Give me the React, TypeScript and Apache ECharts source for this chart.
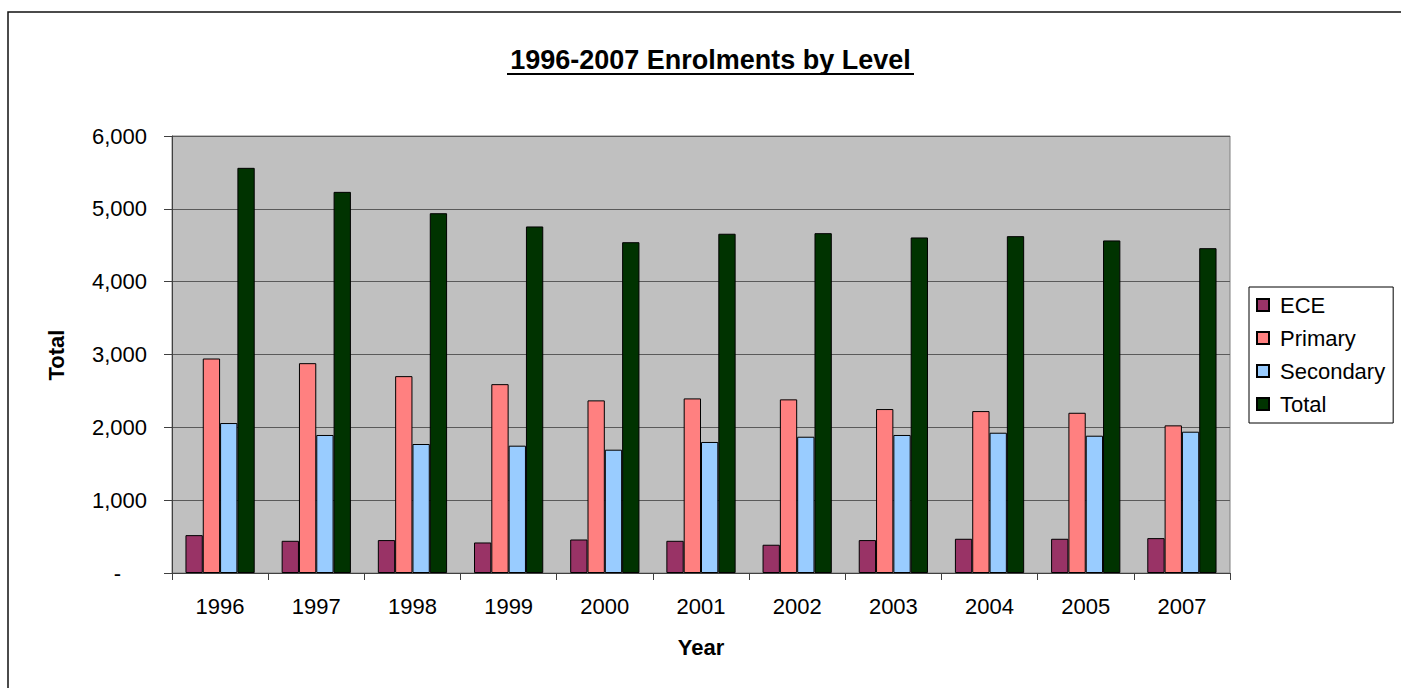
import React, { useEffect, useRef } from "react";
import * as echarts from "echarts";

const years = ["1996", "1997", "1998", "1999", "2000", "2001", "2002", "2003", "2004", "2005", "2007"];
const ece = [520, 442, 452, 419, 460, 442, 388, 452, 470, 470, 479];
const primary = [2945, 2881, 2703, 2593, 2370, 2397, 2384, 2251, 2223, 2200, 2027];
const secondary = [2059, 1895, 1771, 1748, 1693, 1799, 1871, 1895, 1926, 1885, 1940];
const total = [5563, 5233, 4940, 4758, 4542, 4658, 4666, 4607, 4625, 4566, 4460];

const seriesNames = ["ECE", "Primary", "Secondary", "Total"];
const seriesColors = ["#993366", "#FF8080", "#99CCFF", "#003300"];
const seriesData = [ece, primary, secondary, total];

const FONT = "'Liberation Sans', Arial, Helvetica, sans-serif";

export default function App() {
  const ref = useRef<HTMLDivElement>(null);
  useEffect(() => {
    if (!ref.current) return;
    const chart = echarts.init(ref.current, undefined, { renderer: "svg" });
    const option: any = {
      animation: false,
      backgroundColor: "#ffffff",
      textStyle: { fontFamily: FONT },
      grid: {
        left: 172,
        right: 171,
        top: 136,
        bottom: 115,
        show: true,
        backgroundColor: "#C0C0C0",
        borderColor: "#808080",
        borderWidth: 1,
        containLabel: false,
      },
      legend: {
        orient: "vertical",
        left: 1249,
        top: 287,
        padding: [7, 8, 8, 7],
        itemWidth: 12,
        itemHeight: 12,
        itemGap: 11,
        borderColor: "#000",
        borderWidth: 1,
        backgroundColor: "#fff",
        icon: "rect",
        textStyle: { fontSize: 22, color: "#000", fontFamily: FONT, padding: [0, 0, 0, 6] },
        data: seriesNames,
      },
      xAxis: {
        type: "category",
        data: years,
        boundaryGap: true,
        axisLine: { show: true, lineStyle: { color: "#404040", width: 1 } },
        axisTick: { show: true, length: 7, interval: 0, lineStyle: { color: "#404040" } },
        axisLabel: { fontSize: 22, color: "#000", margin: 22, fontFamily: FONT, interval: 0 },
        splitLine: { show: false },
      },
      yAxis: {
        type: "value",
        min: 0,
        max: 6000,
        interval: 1000,
        axisLine: { show: true, lineStyle: { color: "#404040", width: 1 } },
        axisTick: { show: true, length: 8, inside: false, lineStyle: { color: "#404040" } },
        axisLabel: {
          fontSize: 22,
          color: "#000",
          margin: 25,
          fontFamily: FONT,
          formatter: (v: number) => (v === 0 ? "{d|-}" : v.toLocaleString("en-US")),
          rich: { d: { fontSize: 22, color: "#000", fontFamily: FONT, padding: [0, 26, 0, 0] } },
        },
        splitLine: { show: true, lineStyle: { color: "#5a5a5a", width: 1.2 } },
      },
      series: seriesNames.map((name, i) => ({
        name,
        type: "bar",
        data: seriesData[i],
        barGap: "0%",
        barCategoryGap: "28%",
        itemStyle: { color: seriesColors[i], borderColor: "#000", borderWidth: 1 },
      })),
      graphic: [
        {
          type: "rect",
          shape: { x: 8, y: 12, width: 1420, height: 720 },
          style: { fill: "none", stroke: "#111", lineWidth: 1.5 },
          silent: true,
          z: -10,
        },
        {
          type: "text",
          x: 710.5,
          y: 60,
          style: {
            text: "1996-2007 Enrolments by Level",
            fontSize: 27,
            fontWeight: "bold",
            fontFamily: FONT,
            fill: "#000",
            textAlign: "center",
            textVerticalAlign: "middle",
          },
        },
        {
          type: "line",
          shape: { x1: 507, y1: 74, x2: 914, y2: 74 },
          style: { stroke: "#000", lineWidth: 2 },
        },
        {
          type: "text",
          x: 56,
          y: 355,
          rotation: Math.PI / 2,
          style: {
            text: "Total",
            fontSize: 22,
            fontWeight: "bold",
            fontFamily: FONT,
            fill: "#000",
            textAlign: "center",
            textVerticalAlign: "middle",
          },
        },
        {
          type: "text",
          x: 701,
          y: 647,
          style: {
            text: "Year",
            fontSize: 22,
            fontWeight: "bold",
            fontFamily: FONT,
            fill: "#000",
            textAlign: "center",
            textVerticalAlign: "middle",
          },
        },
      ],
    };
    chart.setOption(option);
    return () => chart.dispose();
  }, []);
  return (
    <div
      ref={ref}
      style={{ position: "absolute", left: 0, top: 0, width: 1401, height: 688 }}
    />
  );
}
